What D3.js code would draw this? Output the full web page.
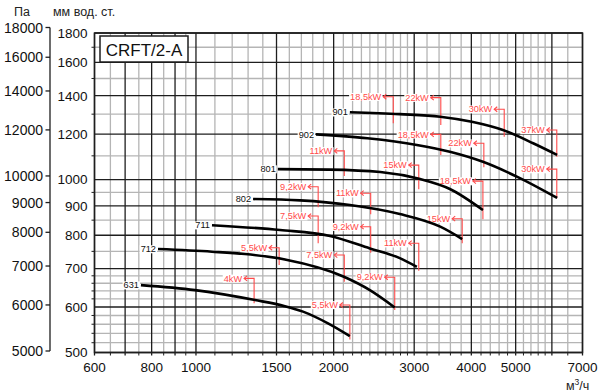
<!DOCTYPE html>
<meta charset="utf-8">
<head>
    <script type="text/javascript" src="https://cdn.jsdelivr.net/npm/d3@7"></script>
    <style>
        body { margin: 0; background: #fff; }
        svg text { font-family: "Liberation Sans", Arial, sans-serif; }
    </style>
    <title>CRFT/2-A</title>
</head>
<body>
<div id="chart"></div>
<script>
// fan curves, flow in m3/h, pressure in mm w.c.
var curveNames = ["901", "902", "801", "802", "711", "712", "631"];
var curveFlow = [
    [2170, 2790, 3420, 4010, 4690, 5460, 6160],
    [1830, 2370, 3040, 3590, 4240, 5030, 6160],
    [1510, 1960, 2530, 3090, 3590, 4240],
    [1333, 1690, 2170, 2790, 3420, 3820],
    [1084, 1527, 1964, 2400, 2790, 3040],
    [826, 1084, 1280, 1565, 2100, 2400, 2720],
    [758, 995, 1346, 1565, 1714, 1944, 2170]
];
var curvePress = [
    [1310, 1300, 1287, 1261, 1220, 1157, 1104],
    [1199, 1180, 1149, 1118, 1074, 1012, 929],
    [1043, 1041, 1031, 1002, 963, 885],
    [925, 920, 903, 871, 828, 788],
    [833, 817, 798, 759, 730, 705],
    [757, 749, 742, 726, 678, 642, 599],
    [655, 642, 617, 602, 589, 562, 534]
];

// motor power markers
var markerLabels = ["18,5kW", "22kW", "30kW", "37kW", "18,5kW", "22kW", "30kW",
    "11kW", "15kW", "18,5kW", "9,2kW", "11kW", "15kW", "7,5kW", "9,2kW", "11kW",
    "7,5kW", "9,2kW", "5,5kW", "5,5kW", "4kW"];
var markerFlow = [2700, 3430, 4720, 6150, 3430, 4260, 6150,
    2110, 3070, 4240, 1850, 2410, 3820, 1850, 2410, 3070,
    2110, 2720, 2170, 1520, 1340];
var markerTop = [1394, 1389, 1326, 1220, 1199, 1157, 1043,
    1122, 1060, 994, 972, 947, 855, 864, 828, 775,
    739, 676, 605, 761, 673];
var markerBottom = [1253, 1245, 1188, 1096, 1104, 1051, 928,
    1015, 962, 853, 895, 870, 775, 775, 746, 694,
    664, 593, 527, 710, 609];

var flowTicks = [600, 800, 1000, 1500, 2000, 3000, 4000, 5000, 7000];
var mmTicks = [500, 600, 700, 800, 900, 1000, 1200, 1400, 1600, 1800];
var paTicks = [5000, 6000, 7000, 8000, 9000, 10000, 12000, 14000, 16000, 18000];

var flowMajor = [600, 700, 800, 900, 1000, 1500, 2000, 3000, 4000, 5000, 6000, 7000];
var flowMinor = [650, 750, 850, 950,
    1100, 1200, 1300, 1400, 1600, 1700, 1800, 1900,
    2100, 2200, 2300, 2400, 2500, 2600, 2700, 2800, 2900,
    3200, 3400, 3600, 3800, 4200, 4400, 4600, 4800,
    5200, 5400, 5600, 5800, 6500];
var mmMajor = [500, 600, 700, 800, 900, 1000, 1200, 1400, 1600, 1800];
var mmMinor = [520, 540, 560, 580, 620, 640, 660, 680, 750, 850, 950,
    1100, 1300, 1500, 1700];

var W = 600, H = 392;
var pL = 94.5, pR = 582.5, pT = 33, pB = 352.5;

var svg = d3.select("#chart").append("svg")
    .attr("width", W).attr("height", H);

var x = d3.scaleLog().domain([600, 7000]).range([pL, pR]);
var y = d3.scaleLog().domain([500, 1800]).range([pB, pT]);
var yPa = d3.scaleLog().domain([5000, 18000]).range([351, 27.5]);

var dark = "#1e1e1e", light = "#b5b5b5", red = "#ff4a4a";

// grid
var grid = svg.append("g");
grid.selectAll(".vmin").data(flowMinor).enter().append("line")
    .attr("x1", d => x(d)).attr("x2", d => x(d))
    .attr("y1", pT).attr("y2", pB)
    .attr("stroke", light).attr("stroke-width", 1.3);
grid.selectAll(".hmin").data(mmMinor).enter().append("line")
    .attr("x1", pL).attr("x2", pR)
    .attr("y1", d => y(d)).attr("y2", d => y(d))
    .attr("stroke", light).attr("stroke-width", 1.3);
// small black ticks at minor lines
grid.selectAll(".vt").data(flowMinor).enter().append("line")
    .attr("x1", d => x(d)).attr("x2", d => x(d))
    .attr("y1", pB).attr("y2", pB + 3)
    .attr("stroke", dark).attr("stroke-width", 1);
grid.selectAll(".ht").data(mmMinor).enter().append("line")
    .attr("x1", pL - 3).attr("x2", pL)
    .attr("y1", d => y(d)).attr("y2", d => y(d))
    .attr("stroke", dark).attr("stroke-width", 1);
grid.selectAll(".vmaj").data(flowMajor).enter().append("line")
    .attr("x1", d => x(d)).attr("x2", d => x(d))
    .attr("y1", pT).attr("y2", pB + 3)
    .attr("stroke", dark).attr("stroke-width", 1.3);
grid.selectAll(".hmaj").data(mmMajor).enter().append("line")
    .attr("x1", pL).attr("x2", pR)
    .attr("y1", d => y(d)).attr("y2", d => y(d))
    .attr("stroke", dark).attr("stroke-width", 1.3);
grid.append("rect")
    .attr("x", pL).attr("y", pT)
    .attr("width", pR - pL).attr("height", pB - pT)
    .attr("fill", "none").attr("stroke", dark).attr("stroke-width", 1.5);

// axis labels
svg.selectAll(".xl").data(flowTicks).enter().append("text")
    .attr("x", d => x(d)).attr("y", 372)
    .attr("text-anchor", "middle").attr("font-size", 13.5).attr("fill", "#111")
    .text(d => d);
svg.selectAll(".yl").data(mmTicks).enter().append("text")
    .attr("x", 87.5).attr("y", d => y(d)).attr("dy", "0.36em")
    .attr("text-anchor", "end").attr("font-size", 13.5).attr("fill", "#111")
    .text(d => d);

// Pa axis
svg.append("line")
    .attr("x1", 50).attr("x2", 50)
    .attr("y1", yPa(18000)).attr("y2", yPa(5000))
    .attr("stroke", dark).attr("stroke-width", 1.3);
svg.selectAll(".pt").data(paTicks).enter().append("line")
    .attr("x1", 45.5).attr("x2", 50)
    .attr("y1", d => yPa(d)).attr("y2", d => yPa(d))
    .attr("stroke", dark).attr("stroke-width", 1.3);
svg.selectAll(".pl").data(paTicks).enter().append("text")
    .attr("x", 43).attr("y", d => yPa(d)).attr("dy", "0.36em")
    .attr("text-anchor", "end").attr("font-size", 14).attr("fill", "#111")
    .text(d => d);

svg.append("text").attr("x", 14).attr("y", 16)
    .attr("font-size", 12.5).attr("fill", "#222").text("Па");
svg.append("text").attr("x", 53).attr("y", 16)
    .attr("font-size", 12.5).attr("fill", "#222").text("мм вод. ст.");
var unit = svg.append("text").attr("x", 566).attr("y", 390)
    .attr("font-size", 12.5).attr("fill", "#222");
unit.append("tspan").text("м");
unit.append("tspan").attr("font-size", 8.5).attr("dy", -5).text("3");
unit.append("tspan").attr("dy", 5).text("/ч");

// title box
svg.append("rect").attr("x", 100).attr("y", 36)
    .attr("width", 88).attr("height", 26)
    .attr("fill", "#fff").attr("stroke", dark).attr("stroke-width", 1.5);
svg.append("text").attr("x", 144).attr("y", 55.5)
    .attr("text-anchor", "middle").attr("font-size", 17).attr("fill", "#111")
    .text("CRFT/2-A");

// helper: text with white backing
function labelWithBg(g, tx, ty, str, color, anchor) {
    var t = g.append("text")
        .attr("x", tx).attr("y", ty).attr("dy", "0.35em")
        .attr("text-anchor", anchor).attr("font-size", 9.2)
        .attr("fill", color).text(str);
    var bb = t.node().getBBox();
    g.insert("rect", function () { return t.node(); })
        .attr("x", bb.x - 1).attr("y", bb.y + 1)
        .attr("width", bb.width + 2).attr("height", bb.height - 2)
        .attr("fill", "#fff");
}

// markers
var mk = svg.append("g");
markerLabels.forEach(function (lab, i) {
    var vx = x(markerFlow[i]), ty = y(markerTop[i]), by = y(markerBottom[i]);
    var g = mk.append("g");
    labelWithBg(g, vx - 12, ty, lab, red, "end");
    g.append("path")
        .attr("d", "M" + (vx - 10) + "," + ty + "H" + vx + "V" + by)
        .attr("fill", "none").attr("stroke", red).attr("stroke-width", 1.1);
    g.append("path")
        .attr("d", "M" + (vx - 7) + "," + (ty - 2.5) + "L" + (vx - 10) + "," + ty + "L" + (vx - 7) + "," + (ty + 2.5))
        .attr("fill", "none").attr("stroke", red).attr("stroke-width", 1.1);
});

// curves
var line = d3.line()
    .x(d => x(d[0])).y(d => y(d[1]))
    .curve(d3.curveMonotoneX);
var cg = svg.append("g");
curveNames.forEach(function (name, i) {
    var pts = curveFlow[i].map((f, j) => [f, curvePress[i][j]]);
    cg.append("path").attr("d", line(pts))
        .attr("fill", "none").attr("stroke", "#000").attr("stroke-width", 2.6);
    labelWithBg(cg, x(pts[0][0]) - 2, y(pts[0][1]), name, "#111", "end");
});
</script>
</body>
</html>
